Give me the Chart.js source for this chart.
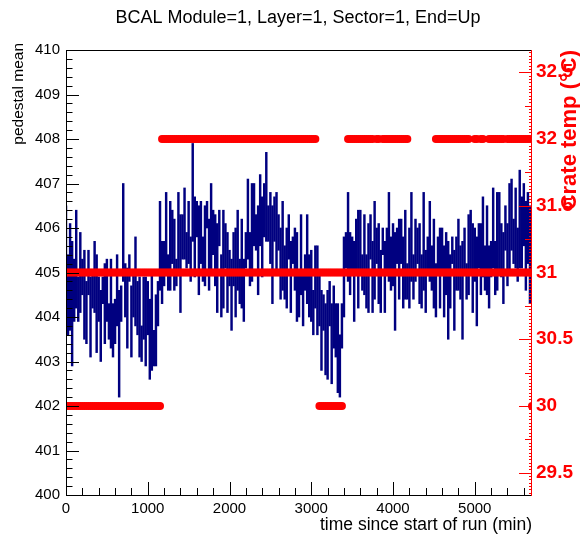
<!DOCTYPE html>
<html>
<head>
<meta charset="utf-8">
<script src="https://cdn.jsdelivr.net/npm/chart.js@4/dist/chart.umd.min.js"></script>
<style>
  body { margin: 0; background: #fff; }
  canvas { display: block; background: #fff; }
</style>
</head>
<body>
<canvas id="pedestal-chart" width="580" height="534"></canvas>
<script>
/*---------- Data ----------------------------------*/
// time since start of run (min)
const minutes = [
  0, 25, 50, 75, 100, 125, 150, 175, 200, 225, 250, 275,
  300, 325, 350, 375, 400, 425, 450, 475, 500, 525, 550, 575,
  600, 625, 650, 675, 700, 725, 750, 775, 800, 825, 850, 875,
  900, 925, 950, 975, 1000, 1025, 1050, 1075, 1100, 1125, 1150, 1175,
  1200, 1225, 1250, 1275, 1300, 1325, 1350, 1375, 1400, 1425, 1450, 1475,
  1500, 1525, 1550, 1575, 1600, 1625, 1650, 1675, 1700, 1725, 1750, 1775,
  1800, 1825, 1850, 1875, 1900, 1925, 1950, 1975, 2000, 2025, 2050, 2075,
  2100, 2125, 2150, 2175, 2200, 2225, 2250, 2275, 2300, 2325, 2350, 2375,
  2400, 2425, 2450, 2475, 2500, 2525, 2550, 2575, 2600, 2625, 2650, 2675,
  2700, 2725, 2750, 2775, 2800, 2825, 2850, 2875, 2900, 2925, 2950, 2975,
  3000, 3025, 3050, 3075, 3100, 3125, 3150, 3175, 3200, 3225, 3250, 3275,
  3300, 3325, 3350, 3375, 3400, 3425, 3450, 3475, 3500, 3525, 3550, 3575,
  3600, 3625, 3650, 3675, 3700, 3725, 3750, 3775, 3800, 3825, 3850, 3875,
  3900, 3925, 3950, 3975, 4000, 4025, 4050, 4075, 4100, 4125, 4150, 4175,
  4200, 4225, 4250, 4275, 4300, 4325, 4350, 4375, 4400, 4425, 4450, 4475,
  4500, 4525, 4550, 4575, 4600, 4625, 4650, 4675, 4700, 4725, 4750, 4775,
  4800, 4825, 4850, 4875, 4900, 4925, 4950, 4975, 5000, 5025, 5050, 5075,
  5100, 5125, 5150, 5175, 5200, 5225, 5250, 5275, 5300, 5325, 5350, 5375,
  5400, 5425, 5450, 5475, 5500, 5525, 5550, 5575, 5600, 5625, 5650, 5675,
  5700,
];

// pedestal mean (left axis)
const pedMean = [
  405.2, 404.5, 404.9, 404.3, 404.6, 405.3, 404.4, 405.0, 404.9, 404.5, 404.1, 405.0,
  404.0, 404.6, 404.9, 404.3, 404.4, 403.8, 404.6, 404.3, 404.6, 403.9, 404.3, 403.7,
  403.9, 404.6, 403.4, 404.3, 405.9, 404.6, 404.2, 405.1, 403.9, 404.5, 404.8, 404.2,
  404.0, 403.4, 404.2, 403.9, 404.2, 403.5, 403.9, 403.3, 403.7, 404.3, 405.6, 405.0,
  405.2, 405.9, 405.0, 405.6, 405.8, 405.4, 405.0, 405.9, 405.2, 405.8, 406.1, 405.5,
  405.9, 405.3, 406.8, 405.8, 406.2, 405.5, 405.9, 405.3, 405.6, 406.3, 405.4, 406.0,
  405.9, 405.5, 405.1, 406.0, 404.7, 405.3, 405.6, 405.0, 405.1, 404.5, 405.3, 405.0,
  405.5, 404.8, 405.2, 404.6, 405.5, 406.2, 405.3, 405.9, 406.3, 405.9, 405.5, 406.4,
  405.8, 406.4, 406.7, 406.1, 406.0, 405.4, 406.2, 405.9, 405.9, 405.2, 405.6, 405.0,
  405.1, 405.8, 404.9, 405.5, 405.3, 404.9, 404.5, 405.4, 404.4, 405.0, 405.3, 404.7,
  404.7, 404.1, 404.9, 404.6, 404.4, 403.7, 404.1, 403.5, 403.6, 404.3, 403.4, 404.0,
  403.7, 403.3, 402.9, 403.8, 404.9, 405.5, 405.8, 405.2, 405.4, 404.8, 405.6, 405.3,
  405.7, 405.0, 405.4, 404.8, 405.1, 405.8, 404.9, 405.5, 405.6, 405.2, 404.8, 405.7,
  404.9, 405.5, 405.8, 405.2, 405.4, 404.8, 405.6, 405.3, 405.7, 405.0, 405.4, 404.8,
  405.1, 405.8, 404.9, 405.5, 405.6, 405.2, 404.8, 405.7, 404.8, 405.4, 405.7, 405.1,
  405.2, 404.6, 405.4, 405.1, 405.5, 404.8, 405.2, 404.6, 404.8, 405.5, 404.6, 405.2,
  405.4, 405.0, 404.6, 405.5, 404.8, 405.4, 405.7, 405.1, 405.4, 404.8, 405.6, 405.3,
  405.8, 405.1, 405.5, 404.9, 405.3, 406.0, 405.1, 405.7, 405.9, 405.5, 405.1, 406.0,
  405.4, 406.0, 406.3, 405.7, 406.0, 405.4, 406.2, 405.9, 406.3, 405.6, 406.0, 405.4,
  405.5,
];

// error on the pedestal mean
const pedErr = [
  1.3, 0.9, 1.2, 1.4, 0.7, 1.1, 0.5, 0.9, 0.4, 1.0, 0.7, 0.5,
  0.9, 0.4, 0.8, 1.1, 0.5, 0.8, 0.3, 0.9, 0.7, 0.4, 1.0, 0.6,
  0.5, 0.8, 1.2, 0.4, 1.1, 0.6, 0.9, 0.3, 0.8, 0.5, 1.0, 0.6,
  0.9, 0.4, 0.7, 1.0, 0.6, 0.9, 1.1, 0.4, 0.8, 0.5, 1.0, 0.7,
  0.5, 0.9, 0.4, 1.0, 0.6, 0.8, 0.3, 0.9, 1.1, 0.5, 0.8, 0.4,
  0.7, 0.5, 1.1, 0.9, 0.4, 1.0, 0.7, 0.5, 0.9, 0.3, 0.8, 1.0,
  0.5, 0.8, 1.0, 0.4, 0.7, 1.1, 0.5, 0.9, 0.4, 0.8, 0.6, 1.0,
  0.9, 0.5, 1.0, 0.7, 0.4, 0.9, 0.6, 1.1, 0.7, 0.4, 1.0, 0.8,
  0.9, 0.6, 1.0, 0.4, 0.8, 1.1, 0.5, 0.9, 0.4, 0.8, 1.0, 0.6,
  0.9, 0.5, 0.8, 0.3, 0.7, 1.0, 0.5, 0.9, 0.6, 0.4, 1.0, 0.7,
  0.8, 0.5, 0.7, 1.0, 0.6, 0.9, 0.4, 0.8, 1.0, 0.5, 0.9, 0.7,
  0.6, 1.0, 0.7, 0.5, 0.9, 0.4, 1.0, 0.7, 0.4, 0.9, 0.6, 1.1,
  0.7, 0.4, 0.9, 0.6, 1.0, 0.5, 0.8, 1.1, 0.4, 0.9, 0.7, 0.3,
  0.8, 0.5, 1.0, 0.6, 0.7, 1.1, 0.4, 0.9, 0.5, 0.8, 1.0, 0.4,
  0.9, 1.0, 0.5, 0.7, 0.4, 0.9, 0.6, 1.1, 0.7, 0.4, 0.9, 0.5,
  1.0, 0.6, 0.4, 0.9, 0.5, 0.8, 0.7, 1.1, 0.6, 0.3, 0.9, 0.6,
  0.8, 0.6, 1.1, 0.5, 0.4, 0.9, 0.7, 1.0, 0.6, 1.0, 0.5, 0.8,
  0.9, 0.5, 1.0, 0.7, 0.4, 0.9, 0.6, 1.1, 0.9, 0.6, 0.8, 0.5,
  0.7, 1.0, 0.8, 0.5, 0.9, 0.6, 1.1, 0.8, 0.7, 1.0, 0.8, 1.1,
  0.9,
];

// crate temperature readings (right axis, deg C)
const crateTempA = [
  31, 31, 31, 31, 31, 31, 31, 31, 31, 31, 31, 31,
  31, 31, 31, 31, 31, 31, 31, 31, 31, 31, 31, 31,
  31, 31, 31, 31, 31, 31, 31, 31, 31, 31, 31, 31,
  31, 31, 31, 31, 31, 31, 31, 31, 31, 31, 31, 31,
  31, 31, 31, 31, 31, 31, 31, 31, 31, 31, 31, 31,
  31, 31, 31, 31, 31, 31, 31, 31, 31, 31, 31, 31,
  31, 31, 31, 31, 31, 31, 31, 31, 31, 31, 31, 31,
  31, 31, 31, 31, 31, 31, 31, 31, 31, 31, 31, 31,
  31, 31, 31, 31, 31, 31, 31, 31, 31, 31, 31, 31,
  31, 31, 31, 31, 31, 31, 31, 31, 31, 31, 31, 31,
  31, 31, 31, 31, 31, 31, 31, 31, 31, 31, 31, 31,
  31, 31, 31, 31, 31, 31, 31, 31, 31, 31, 31, 31,
  31, 31, 31, 31, 31, 31, 31, 31, 31, 31, 31, 31,
  31, 31, 31, 31, 31, 31, 31, 31, 31, 31, 31, 31,
  31, 31, 31, 31, 31, 31, 31, 31, 31, 31, 31, 31,
  31, 31, 31, 31, 31, 31, 31, 31, 31, 31, 31, 31,
  31, 31, 31, 31, 31, 31, 31, 31, 31, 31, 31, 31,
  31, 31, 31, 31, 31, 31, 31, 31, 31, 31, 31, 31,
  31, 31, 31, 31, 31, 31, 31, 31, 31, 31, 31, 31,
  31,
];

const crateTempB = [
  30, 30, 30, 30, 30, 30, 30, 30, 30, 30, 30, 30,
  30, 30, 30, 30, 30, 30, 30, 30, 30, 30, 30, 30,
  30, 30, 30, 30, 30, 30, 30, 30, 30, 30, 30, 30,
  30, 30, 30, 30, 30, 30, 30, 30, 30, 30, 30, 32,
  32, 32, 32, 32, 32, 32, 32, 32, 32, 32, 32, 32,
  32, 32, 32, 32, 32, 32, 32, 32, 32, 32, 32, 32,
  32, 32, 32, 32, 32, 32, 32, 32, 32, 32, 32, 32,
  32, 32, 32, 32, 32, 32, 32, 32, 32, 32, 32, 32,
  32, 32, 32, 32, 32, 32, 32, 32, 32, 32, 32, 32,
  32, 32, 32, 32, 32, 32, 32, 32, 32, 32, 32, 32,
  32, 32, 32, null, 30, 30, 30, 30, 30, 30, 30, 30,
  30, 30, 30, 30, null, null, 32, 32, 32, 32, 32, 32,
  32, 32, 32, 32, 32, 32, 32, null, 32, 32, null, 32,
  32, 32, 32, 32, 32, 32, 32, 32, 32, 32, 32, 32,
  null, null, null, null, null, null, null, null, null, null, null, null,
  null, 32, 32, 32, 32, 32, 32, 32, 32, 32, 32, 32,
  32, 32, 32, 32, 32, 32, null, null, 32, 32, null, 32,
  32, null, null, 32, 32, 32, 32, 32, 32, 32, 32, null,
  32, 32, 32, 32, 32, 32, 32, 32, 32, 32, 32, 32,
  30,
];

// tick labels
const timeTicks = [0, 1000, 2000, 3000, 4000, 5000];
const tempTicks = [29.5, 30, 30.5, 31, 31.5, 32, 32.5];

const FONT = '"Liberation Sans", Arial, Helvetica, sans-serif';

/*---------- Build datasets ----------------*/
const pedestalBars = minutes.map((t, i) => ({
  x: t,
  y: [pedMean[i] - pedErr[i], pedMean[i] + pedErr[i]],
}));
const tempPointsA = minutes.map((t, i) => ({ x: t, y: crateTempA[i] }));
const tempPointsB = minutes.map((t, i) => ({ x: t, y: crateTempB[i] }));

// ROOT style frame: inward ticks + titles
const rootFrame = {
  id: "rootFrame",
  afterDraw(chart) {
    const { ctx, chartArea: a, scales } = chart;
    const xs = scales.x, ys = scales.y, ys2 = scales.y2;
    ctx.save();
    ctx.lineWidth = 1;

    // black frame (left, top, bottom)
    ctx.strokeStyle = "#000";
    ctx.beginPath();
    ctx.moveTo(a.left + 0.5, a.top + 0.5);
    ctx.lineTo(a.left + 0.5, a.bottom + 0.5);
    ctx.lineTo(a.right, a.bottom + 0.5);
    ctx.moveTo(a.left, a.top + 0.5);
    ctx.lineTo(a.right, a.top + 0.5);

    // left axis ticks
    for (let k = 0; k <= 50; k++) {
      const py = Math.round(ys.getPixelForValue(400 + k * 0.2)) + 0.5;
      const len = k % 5 === 0 ? 13 : 6.5;
      ctx.moveTo(a.left, py);
      ctx.lineTo(a.left + len, py);
    }
    // bottom axis ticks
    for (let k = 0; k <= 28; k++) {
      const px = Math.round(xs.getPixelForValue(k * 200)) + 0.5;
      const len = k % 5 === 0 ? 13 : 7;
      ctx.moveTo(px, a.bottom);
      ctx.lineTo(px, a.bottom - len);
    }
    ctx.stroke();

    // right axis in red
    ctx.strokeStyle = "#ff0000";
    ctx.beginPath();
    ctx.moveTo(a.right - 0.5, a.top);
    ctx.lineTo(a.right - 0.5, a.bottom + 1);
    for (let k = 14; k <= 146; k++) {
      const v = 29 + k * 0.025;
      if (v < ys2.min || v > ys2.max) continue;
      const py = Math.round(ys2.getPixelForValue(v)) + 0.5;
      let len = 3;
      if (k % 20 === 0) len = 13;
      else if (k % 10 === 0) len = 7;
      ctx.moveTo(a.right, py);
      ctx.lineTo(a.right - len, py);
    }
    ctx.stroke();

    // titles
    ctx.fillStyle = "#000";
    ctx.textBaseline = "alphabetic";
    ctx.textAlign = "center";
    ctx.font = "18px " + FONT;
    ctx.fillText("BCAL Module=1, Layer=1, Sector=1, End=Up", 298, 23);

    ctx.textAlign = "right";
    ctx.font = "17.5px " + FONT;
    ctx.fillText("time since start of run (min)", a.right, 530);

    ctx.save();
    ctx.translate(19, 43);
    ctx.rotate(-Math.PI / 2);
    ctx.textAlign = "right";
    ctx.textBaseline = "middle";
    ctx.font = "15.5px " + FONT;
    ctx.fillText("pedestal mean", 0, 0);
    ctx.restore();

    ctx.save();
    ctx.translate(570, 50);
    ctx.rotate(-Math.PI / 2);
    ctx.textAlign = "right";
    ctx.textBaseline = "middle";
    ctx.fillStyle = "#ff0000";
    ctx.font = "bold 22px " + FONT;
    ctx.fillText("Crate temp (°C)", 0, 0);
    ctx.restore();

    ctx.restore();
  },
};

/*-----------Create the chart---------------*/
const pedestalChart = new Chart(document.getElementById("pedestal-chart"), {
  type: "bar",
  data: {
    datasets: [
      {
        type: "scatter",
        label: "Crate temp",
        data: tempPointsA,
        yAxisID: "y2",
        pointRadius: 4,
        pointBackgroundColor: "#ff0000",
        pointBorderWidth: 0,
        order: 1,
      },
      {
        type: "scatter",
        label: "Crate temp 2",
        data: tempPointsB,
        yAxisID: "y2",
        pointRadius: 4,
        pointBackgroundColor: "#ff0000",
        pointBorderWidth: 0,
        order: 1,
      },
      {
        type: "bar",
        label: "pedestal mean",
        data: pedestalBars,
        yAxisID: "y",
        backgroundColor: "#000080",
        barThickness: 1.8,
        order: 2,
      },
    ],
  },
  options: {
    responsive: false,
    animation: false,
    devicePixelRatio: 1,
    layout: { padding: { top: 50, left: 0, right: 0, bottom: 0 } },
    plugins: {
      legend: { display: false },
      title: { display: false },
      tooltip: { enabled: false },
    },
    scales: {
      x: {
        type: "linear",
        min: 0,
        max: 5700,
        offset: false,
        grid: { display: false, drawTicks: false },
        border: { display: false },
        afterBuildTicks: (s) => { s.ticks = timeTicks.map((v) => ({ value: v })); },
        ticks: {
          autoSkip: false,
          maxRotation: 0,
          padding: 5,
          color: "#000",
          font: { family: FONT, size: 15 },
          callback: (v) => String(v),
        },
        afterFit: (s) => { s.height = 39; },
      },
      y: {
        position: "left",
        min: 400,
        max: 410,
        grid: { display: false, drawTicks: false },
        border: { display: false },
        ticks: {
          stepSize: 1,
          padding: 6,
          color: "#000",
          font: { family: FONT, size: 15 },
          callback: (v) => String(v),
        },
        afterFit: (s) => { s.width = 66; },
      },
      y2: {
        position: "right",
        min: 32 - 8 / 3,
        max: 32 + 2 / 3,
        grid: { display: false, drawTicks: false },
        border: { display: false },
        afterBuildTicks: (s) => { s.ticks = tempTicks.map((v) => ({ value: v })); },
        ticks: {
          autoSkip: false,
          padding: 4,
          color: "#ff0000",
          font: { family: FONT, size: 19, weight: "bold" },
          callback: (v) => String(v),
        },
        afterFit: (s) => { s.width = 48; },
      },
    },
  },
  plugins: [rootFrame],
});
</script>
</body>
</html>
